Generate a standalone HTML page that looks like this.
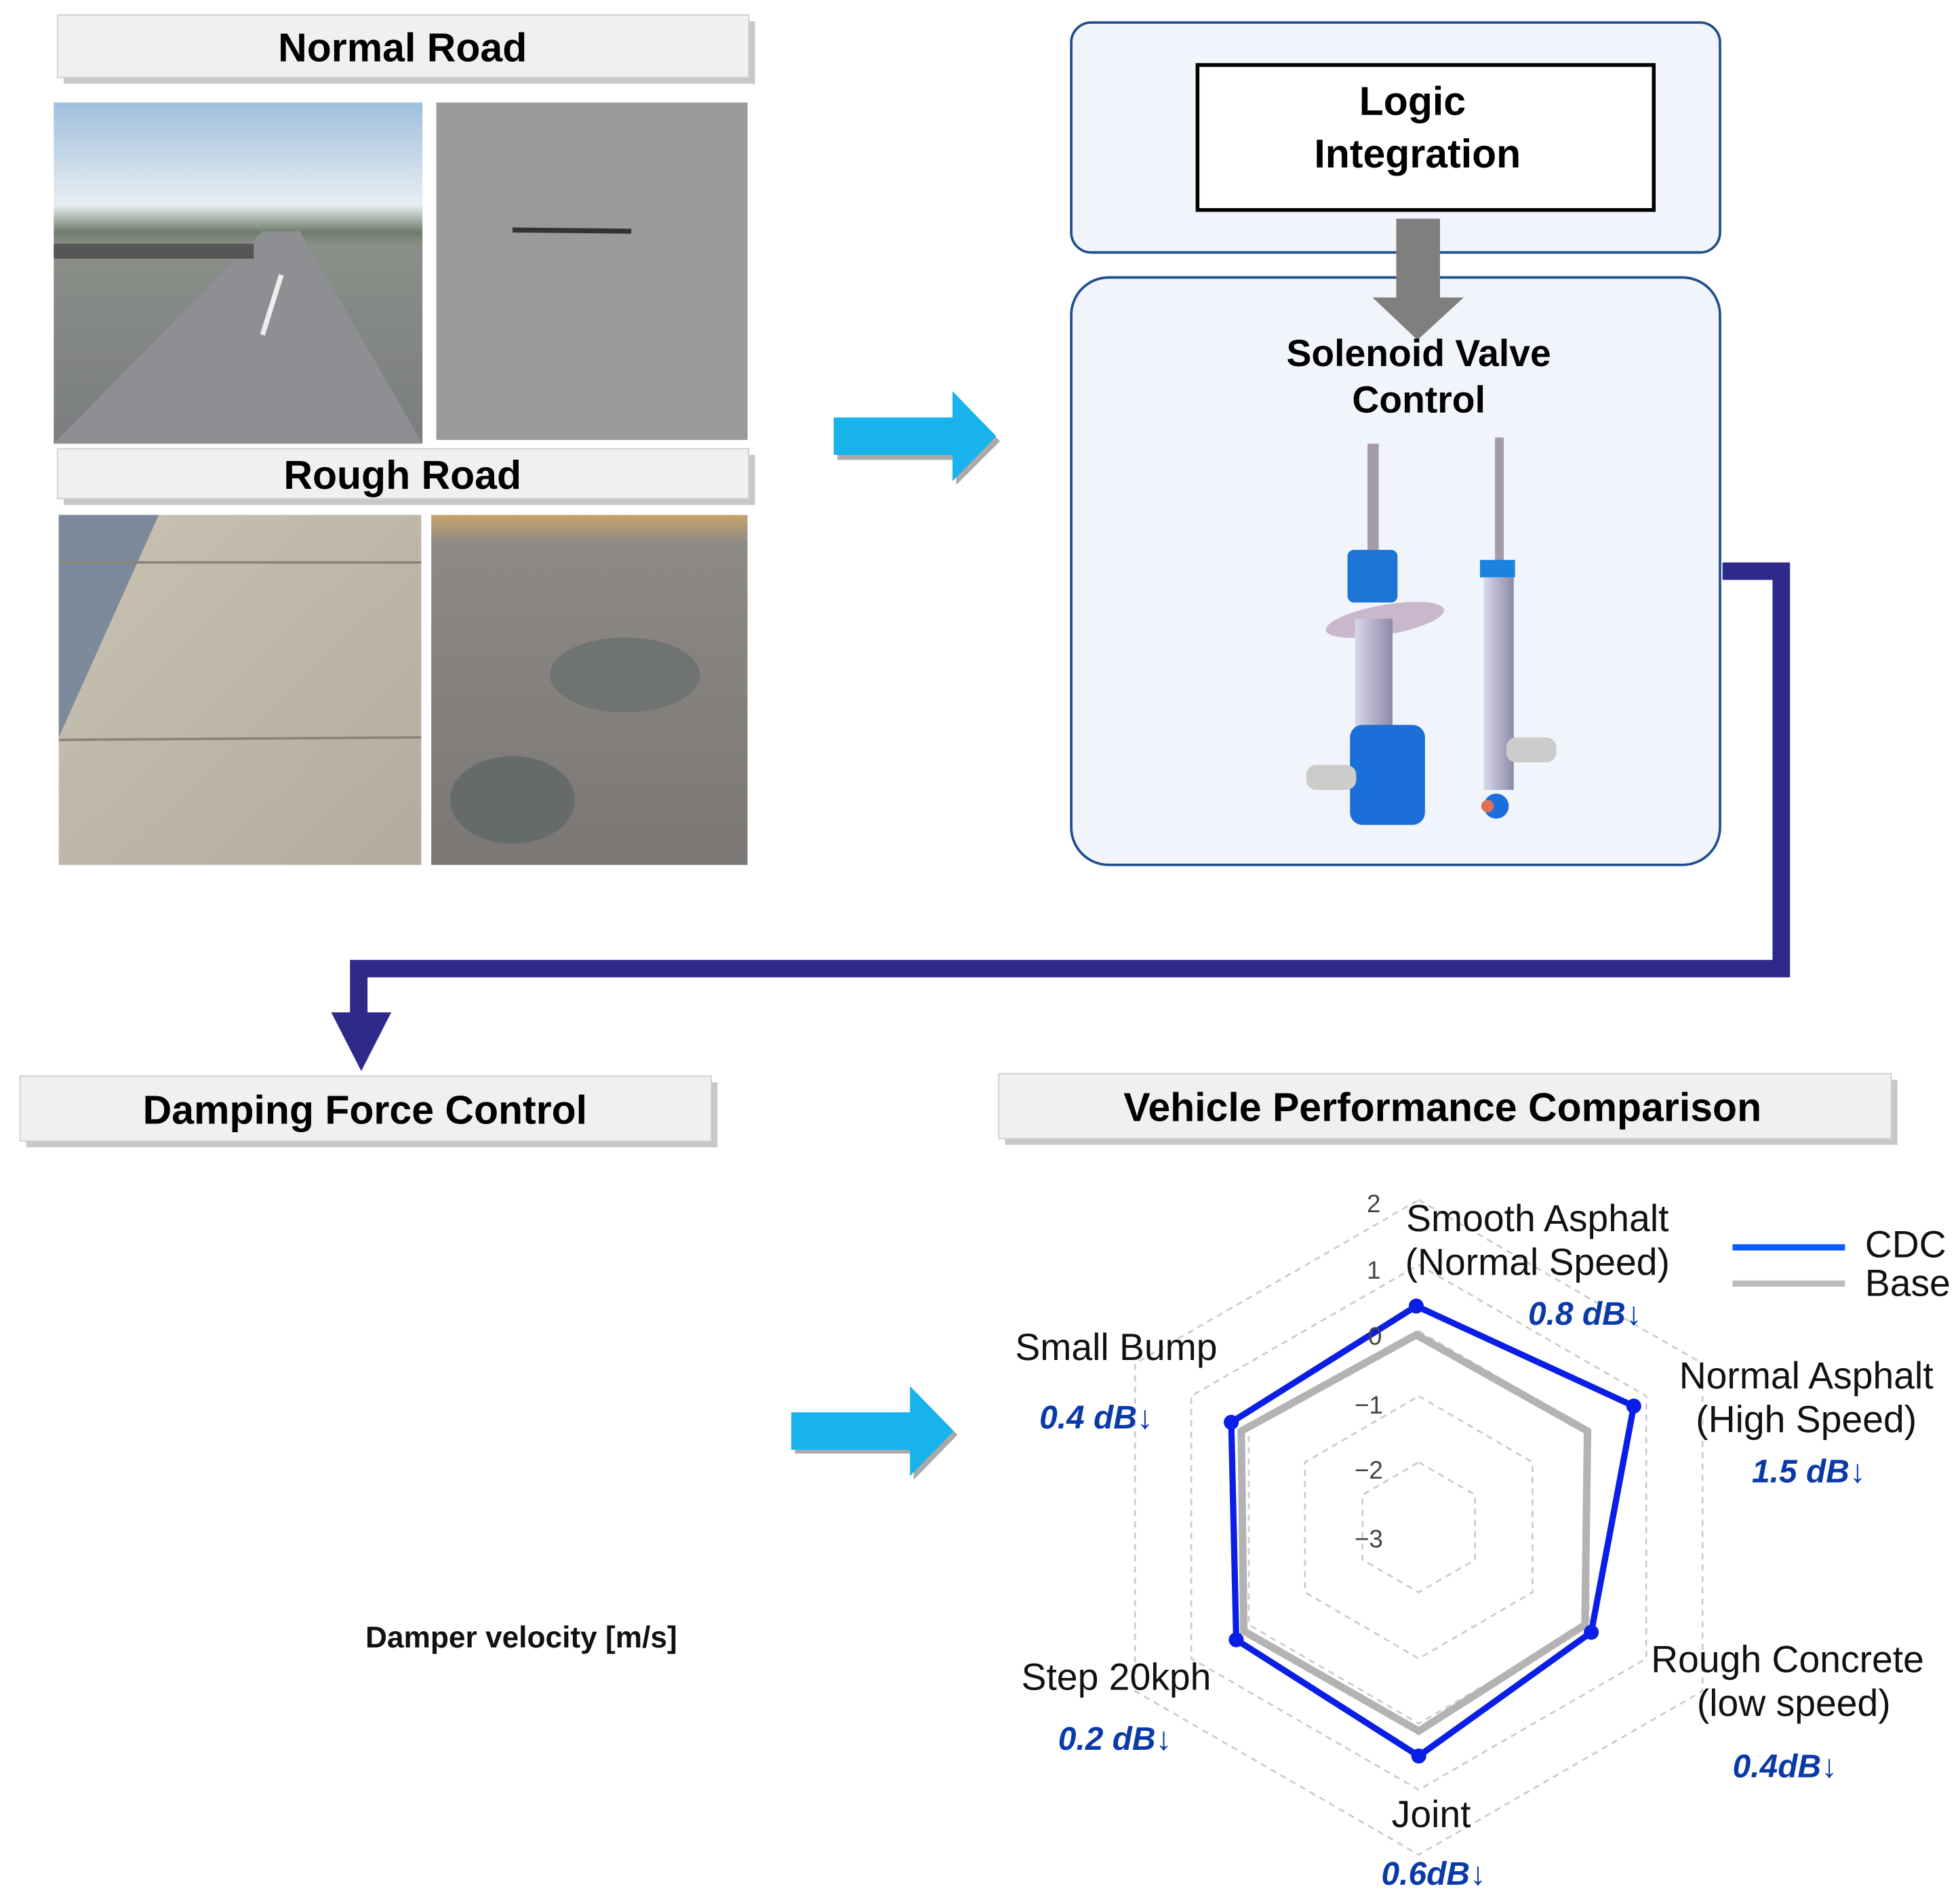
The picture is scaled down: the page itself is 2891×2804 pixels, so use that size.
<!DOCTYPE html>
<html><head><meta charset="utf-8"><style>html,body{margin:0;padding:0;background:#fff}svg{display:block}</style></head>
<body>
<svg width="2891" height="2804" viewBox="0 0 1568 1521" preserveAspectRatio="none" xmlns="http://www.w3.org/2000/svg" font-family="Liberation Sans, sans-serif">
<defs>
<linearGradient id="sky" x1="0" y1="0" x2="0" y2="1"><stop offset="0" stop-color="#9fbfdc"/><stop offset="0.3" stop-color="#e8eef2"/><stop offset="0.38" stop-color="#6f7c6a"/><stop offset="0.42" stop-color="#8a8f88"/><stop offset="1" stop-color="#7b7d80"/></linearGradient>
<linearGradient id="conc" x1="0" y1="0" x2="1" y2="1"><stop offset="0" stop-color="#c9c3b3"/><stop offset="1" stop-color="#b3ab9b"/></linearGradient>
<linearGradient id="pot" x1="0" y1="0" x2="0" y2="1"><stop offset="0" stop-color="#c8a36a"/><stop offset="0.08" stop-color="#8d8a85"/><stop offset="1" stop-color="#7a7775"/></linearGradient>
<linearGradient id="tube" x1="0" y1="0" x2="1" y2="0"><stop offset="0" stop-color="#d8d8ea"/><stop offset="1" stop-color="#8d8aa8"/></linearGradient>
</defs>
<!-- title bars -->
<g font-weight="bold" font-size="32" text-anchor="middle" fill="#000">
<rect x="51" y="17" width="553" height="50" fill="#c8c8c8"/><rect x="46" y="12" width="553" height="50" fill="#f0f0f0" stroke="#d0d0d0"/>
<text x="322" y="49">Normal  Road</text>
<rect x="51" y="364" width="553" height="40" fill="#c8c8c8"/><rect x="46" y="359" width="553" height="40" fill="#f0f0f0" stroke="#d0d0d0"/>
<text x="322" y="391">Rough Road</text>
<rect x="21" y="866" width="553" height="52" fill="#c8c8c8"/><rect x="16" y="861" width="553" height="52" fill="#f0f0f0" stroke="#d0d0d0"/>
<text x="292" y="899">Damping Force Control</text>
<rect x="804" y="864" width="714" height="52" fill="#c8c8c8"/><rect x="799" y="859" width="714" height="52" fill="#f0f0f0" stroke="#d0d0d0"/>
<text x="1154" y="897">Vehicle Performance Comparison</text>
</g>
<!-- photos -->
<rect x="43" y="82" width="295" height="273" fill="url(#sky)"/>
<polygon points="43,355 338,355 240,185 210,185" fill="#8e8f92"/>
<line x1="210" y1="268" x2="225" y2="220" stroke="#eee" stroke-width="4"/>
<rect x="43" y="195" width="160" height="12" fill="#555"/>
<rect x="349" y="82" width="249" height="270" fill="#9a9a9c"/>
<line x1="410" y1="184" x2="505" y2="185" stroke="#333" stroke-width="4"/>
<rect x="47" y="412" width="290" height="280" fill="url(#conc)"/>
<polygon points="47,412 127,412 47,590" fill="#7d8a9c"/>
<line x1="47" y1="592" x2="337" y2="590" stroke="#8a8478" stroke-width="2"/>
<line x1="47" y1="450" x2="337" y2="450" stroke="#8a8478" stroke-width="2"/>
<rect x="345" y="412" width="253" height="280" fill="url(#pot)"/>
<ellipse cx="500" cy="540" rx="60" ry="30" fill="#6f7371"/><ellipse cx="410" cy="640" rx="50" ry="35" fill="#666a6b"/>
<!-- cyan arrows -->
<polygon points="670,338 765,338 765,318 800,353 765,388 765,368 670,368" fill="#aaa"/>
<polygon points="667,334 762,334 762,313 797,349 762,385 762,364 667,364" fill="#17b3ea"/>
<polygon points="636,1133 731,1133 731,1113 766,1148 731,1184 731,1163 636,1163" fill="#aaa"/>
<polygon points="633,1130 728,1130 728,1109 763,1145 728,1181 728,1160 633,1160" fill="#17b3ea"/>
<!-- logic box -->
<rect x="857" y="18" width="519" height="184" rx="16" fill="#f1f5fb" stroke="#1f4e8c" stroke-width="2"/>
<rect x="958" y="52" width="365" height="116" fill="#fff" stroke="#000" stroke-width="3"/>
<g font-weight="bold" font-size="32" text-anchor="middle"><text x="1130" y="92">Logic</text><text x="1134" y="134">Integration</text></g>
<rect x="857" y="222" width="519" height="470" rx="30" fill="#f1f5fb" stroke="#1f4e8c" stroke-width="2"/>
<rect x="1117" y="175" width="35" height="64" fill="#7f7f7f"/>
<polygon points="1098,238 1171,238 1134,272" fill="#7f7f7f"/>
<g font-weight="bold" font-size="30" text-anchor="middle"><text x="1135" y="293">Solenoid  Valve</text><text x="1135" y="330">Control</text></g>
<!-- shocks -->
<rect x="1094" y="355" width="9" height="90" fill="#a59aac"/>
<rect x="1078" y="440" width="40" height="42" rx="5" fill="#1b74d6"/>
<ellipse cx="1108" cy="496" rx="48" ry="12" fill="#c9b8cc" transform="rotate(-10 1108 496)"/>
<rect x="1084" y="495" width="30" height="100" fill="url(#tube)"/>
<rect x="1080" y="580" width="60" height="80" rx="10" fill="#1b6fd8"/>
<rect x="1045" y="612" width="40" height="20" rx="8" fill="#ccc"/>
<rect x="1196" y="350" width="7" height="100" fill="#a59aac"/>
<rect x="1184" y="448" width="28" height="14" fill="#1b82dd"/>
<rect x="1187" y="462" width="24" height="170" fill="url(#tube)"/>
<rect x="1205" y="590" width="40" height="20" rx="8" fill="#ccc"/>
<circle cx="1197" cy="645" r="10" fill="#1b6fd8"/><circle cx="1190" cy="645" r="5" fill="#e0705a"/>
<!-- navy connector -->
<polyline points="1378,457 1425,457 1425,775 287,775 287,815" fill="none" stroke="#2e2a8a" stroke-width="14"/>
<polygon points="265,810 313,810 289,857" fill="#2e2a8a"/>
<text x="417" y="1318" font-size="24" text-anchor="middle" font-weight="bold" fill="#111">Damper velocity [m/s]</text>
<!-- radar -->
<g fill="none" stroke="#ccc" stroke-width="1.5" stroke-dasharray="5,4">
<polygon points="1135,960 1362,1091 1362,1353 1135,1484 908,1353 908,1091"/>
<polygon points="1135,1012 1317,1117 1317,1327 1135,1432 953,1327 953,1117"/>
<polygon points="1135,1065 1271,1144 1271,1300 1135,1379 999,1300 999,1144"/>
<polygon points="1135,1117 1226,1170 1226,1274 1135,1327 1044,1274 1044,1170"/>
<polygon points="1135,1170 1180,1196 1180,1248 1135,1274 1090,1248 1090,1196"/>
</g>
<polygon points="1133,1068 1270,1145 1268,1300 1135,1385 995,1305 993,1145" fill="none" stroke="#b3b3b3" stroke-width="6"/>
<polygon points="1133,1045 1307,1125 1273,1306 1135,1405 989,1312 985,1138" fill="none" stroke="#0a1ee6" stroke-width="5"/>
<g fill="#0a1ee6"><circle cx="1133" cy="1045" r="6"/><circle cx="1307" cy="1125" r="6"/><circle cx="1273" cy="1306" r="6"/><circle cx="1135" cy="1405" r="6"/><circle cx="989" cy="1312" r="6"/><circle cx="985" cy="1138" r="6"/></g>
<g font-size="20" fill="#444" text-anchor="middle"><text x="1099" y="970">2</text><text x="1099" y="1023">1</text><text x="1100" y="1076">0</text><text x="1095" y="1131">−1</text><text x="1095" y="1183">−2</text><text x="1095" y="1238">−3</text></g>
<line x1="1386" y1="998" x2="1476" y2="998" stroke="#0a5cff" stroke-width="5"/>
<line x1="1386" y1="1027" x2="1476" y2="1027" stroke="#bbb" stroke-width="5"/>
<g font-size="30" fill="#111" font-family="Liberation Sans Narrow, Liberation Sans, sans-serif">
<text x="1492" y="1006">CDC</text><text x="1492" y="1037">Base</text>
<text x="1230" y="985" text-anchor="middle">Smooth  Asphalt</text><text x="1230" y="1020" text-anchor="middle">(Normal Speed)</text>
<text x="1445" y="1111" text-anchor="middle">Normal  Asphalt</text><text x="1445" y="1146" text-anchor="middle">(High Speed)</text>
<text x="1430" y="1338" text-anchor="middle">Rough Concrete</text><text x="1435" y="1373" text-anchor="middle">(low speed)</text>
<text x="1145" y="1462" text-anchor="middle">Joint</text>
<text x="893" y="1352" text-anchor="middle">Step 20kph</text>
<text x="893" y="1088" text-anchor="middle">Small Bump</text>
</g>
<g font-size="26" fill="#0a3aa8" font-style="italic" font-weight="bold" text-anchor="middle" font-family="Liberation Sans Narrow, Liberation Sans, sans-serif">
<text x="1268" y="1060">0.8 dB↓</text><text x="1447" y="1186">1.5 dB↓</text><text x="1428" y="1422">0.4dB↓</text>
<text x="1147" y="1508">0.6dB↓</text><text x="892" y="1400">0.2 dB↓</text><text x="877" y="1143">0.4 dB↓</text>
</g>
</svg>
</body></html>
